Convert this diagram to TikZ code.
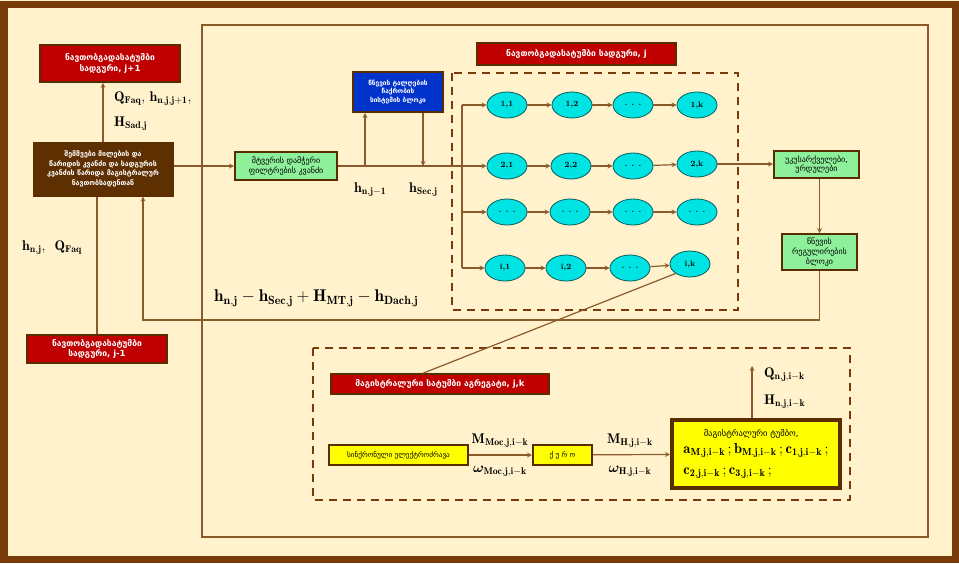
\documentclass[tikz,border=0pt]{standalone}
\usepackage{fontspec}
\usepackage{amsmath,bm}
\newfontfamily\geo{DejaVu Sans}
\usetikzlibrary{shapes.geometric,arrows}

\definecolor{bgcream}{HTML}{FFF2CC}
\definecolor{framebr}{HTML}{7A3B0A}
\definecolor{linebr}{HTML}{8B5A2B}
\definecolor{boxbr}{HTML}{5A2D00}
\definecolor{boxred}{HTML}{C00000}
\definecolor{hubbr}{HTML}{5E2F00}
\definecolor{boxgreen}{HTML}{8EF09A}
\definecolor{boxblue}{HTML}{0033CC}
\definecolor{cellcyan}{HTML}{00E3E3}
\definecolor{celledge}{HTML}{0A5C5C}
\definecolor{boxyellow}{HTML}{FFFF00}

\newcommand\bvar[2]{\mathbf{#1}_{\mathbf{#2}}}

\begin{document}
\begin{tikzpicture}[
    x=1pt, y=-1pt,
    every node/.style={inner sep=1pt},
    redbox/.style={rectangle, draw=boxbr, line width=1.6pt, fill=boxred, text=white, font=\geo\bfseries\fontsize{8.5}{10.5}\selectfont, align=center},
    hubbox/.style={rectangle, draw=boxbr, line width=1pt, fill=hubbr, text=white, font=\geo\bfseries\fontsize{7}{9.5}\selectfont, align=center},
    greenbox/.style={rectangle, draw=boxbr, line width=2pt, fill=boxgreen, font=\geo\fontsize{8}{9.5}\selectfont, align=center},
    bluebox/.style={rectangle, draw=boxbr, line width=2pt, fill=boxblue, text=white, font=\geo\bfseries\fontsize{6.5}{8.5}\selectfont, align=center},
    yellowbox/.style={rectangle, draw=boxbr, line width=2pt, fill=boxyellow, font=\geo\fontsize{7.2}{8}\selectfont, align=center},
    cell/.style={ellipse, draw=celledge, line width=0.8pt, fill=cellcyan, minimum width=40, minimum height=26, inner sep=0pt, font=\bfseries\fontsize{8}{9}\selectfont},
    dashbox/.style={draw=framebr, line width=2.2pt, dash pattern=on 8pt off 6pt},
    arrow/.style={->, >=stealth, line width=1.2pt, draw=linebr},
    line/.style={line width=1.2pt, draw=linebr},
    label/.style={inner sep=0pt, font=\fontsize{14}{16}\selectfont}
]
\useasboundingbox (0,0) rectangle (959,563);
% -------------------------
% Frames
% -------------------------
    \fill[bgcream] (0,0) rectangle (959,563);
    \draw[framebr, line width=7pt] (4,4) rectangle (955,559);
    \draw[linebr, line width=2pt] (202,25) rectangle (928,537);
    \draw[dashbox] (452,73) rectangle (738,310);
    \draw[dashbox] (313,348) rectangle (850,500);

% -------------------------
% Left side (neighbour stations)
% -------------------------
    \node[redbox, minimum width=140, minimum height=37] (stp1) at (110,63.5) {ნავთობგადასატუმბი\\სადგური, j+1};
    \node[hubbox, minimum width=140, minimum height=54] (hub) at (103,169) {შემშვები მილების და\\წარიდის კვანძი და სადგურის\\კვანძის წარიდა მაგისტრალურ\\ნავთობსადენთან};
    \node[redbox, minimum width=140, minimum height=28] (stm1) at (97,349) {ნავთობგადასატუმბი\\სადგური, j-1};

    \node[label, anchor=west] (lq1) at (114,99) {$\bvar{Q}{Faq}$, $\bvar{h}{n,j,j+1}$,};
    \node[label, anchor=west] (lh1) at (114,124) {$\bvar{H}{Sad,j}$};
    \node[label, anchor=west] (lh2) at (22,248) {$\bvar{h}{n,j}$, \ $\bvar{Q}{Faq}$};

% -------------------------
% Station j
% -------------------------
    \node[redbox, minimum width=199, minimum height=22] (stj) at (576.5,54) {ნავთობგადასატუმბი სადგური, j};
    \node[greenbox, minimum width=102, minimum height=28] (filt) at (286,166) {მტვერის დამჭერი\\ფილტრების კვანძი};
    \node[bluebox, minimum width=90, minimum height=40] (dmp) at (398,92) {წნევის ტალღების\\ჩაქრობის\\სისტემის ბლოკი};
    \node[greenbox, minimum width=85, minimum height=27] (vlv) at (816.5,164.5) {უკუსარქველები,\\ურდულები};
    \node[greenbox, minimum width=75, minimum height=36, font=\geo\fontsize{8}{9.8}\selectfont] (prs) at (819.5,252) {წნევის\\რეგულირების\\ბლოკი};

    \node[label, anchor=west] (lhn) at (354,190) {$\bvar{h}{n,j-1}$};
    \node[label, anchor=west] (lhs) at (409,190) {$\bvar{h}{Sec,j}$};
    \node[label, anchor=west, font=\fontsize{17}{19}\selectfont] (lbal) at (214,298) {$\bvar{h}{n,j} - \bvar{h}{Sec,j} + \bvar{H}{MT,j} - \bvar{h}{Dach,j}$};

    % pump cells
    \node[cell] (n11) at (507,105) {1,1};
    \node[cell] (n12) at (572,105) {1,2};
    \node[cell] (n13) at (633,105) {. . .};
    \node[cell] (n14) at (697,105) {1,k};
    \node[cell] (n21) at (507,166) {2,1};
    \node[cell] (n22) at (571,166) {2,2};
    \node[cell] (n23) at (633,166) {. . .};
    \node[cell] (n24) at (697,164) {2,k};
    \node[cell] (n31) at (507,212) {. . .};
    \node[cell] (n32) at (570,212) {. . .};
    \node[cell] (n33) at (633,212) {. . .};
    \node[cell] (n34) at (697,212) {. . .};
    \node[cell] (n41) at (505,268) {i,1};
    \node[cell] (n42) at (566,268) {i,2};
    \node[cell] (n43) at (630,268) {. . .};
    \node[cell] (n44) at (690,264) {i,k};

    \coordinate (splt) at (462,166);
    \coordinate (tapa) at (365,166);
    \coordinate (tapb) at (423,166);
    \coordinate (fbk) at (143,320);

% -------------------------
% Pump aggregate j,k
% -------------------------
    \node[redbox, minimum width=218, minimum height=20] (agg) at (440,384) {მაგისტრალური სატუმბი აგრეგატი, j,k};
    \node[yellowbox, minimum width=139, minimum height=20] (mot) at (398.5,455) {სინქრონული ელექტროძრავა};
    \node[yellowbox, minimum width=59, minimum height=20] (cpl) at (562.5,455) {ქ უ რ ო};
    \node[yellowbox, line width=4pt, minimum width=168, minimum height=68, inner sep=2pt, align=left, font=\fontsize{14.5}{16}\selectfont] (pmp) at (756,454)
        {\hspace*{1.4em}{\geo\fontsize{8.5}{9}\selectfont მაგისტრალური ტუმბო,}\\[1pt]
         $\bvar{a}{M,j,i-k}\,;\bvar{b}{M,j,i-k}\,;\bvar{c}{1,j,i-k}\,;$\\[5pt]
         $\bvar{c}{2,j,i-k}\,;\bvar{c}{3,j,i-k}\,;$};
    \coordinate (qout) at (752,366);

    \node[label] (lmm) at (500,441) {$\bvar{M}{Moc,j,i-k}$};
    \node[label] (lwm) at (500,471) {$\bm{\omega}_{\mathbf{Moc,j,i-k}}$};
    \node[label] (lmh) at (630,441) {$\bvar{M}{H,j,i-k}$};
    \node[label] (lwh) at (630,471) {$\bm{\omega}_{\mathbf{H,j,i-k}}$};
    \node[label, anchor=west] (lqn) at (764,375) {$\bvar{Q}{n,j,i-k}$};
    \node[label, anchor=west] (lhh) at (764,402) {$\bvar{H}{n,j,i-k}$};

% -------------------------
% Arrows & Routing
% -------------------------
    \draw[arrow] (hub.north) -- (hub.north |- stp1.south);
    \draw[line] (stm1.north) -- (stm1.north |- hub.south);
    \draw[arrow] (hub.east |- filt.west) -- (filt.west);
    \draw[line] (filt.east) -- (splt);
    \draw[arrow] (tapa) -- (tapa |- dmp.south);
    \draw[arrow] (tapb |- dmp.south) -- (tapb);
    \draw[line] (splt |- n11) -- (splt |- n41);
    \draw[arrow] (splt |- n11) -- (n11);
    \draw[arrow] (splt) -- (n21);
    \draw[arrow] (splt |- n31) -- (n31);
    \draw[arrow] (splt |- n41) -- (n41);
    \draw[arrow] (n11) -- (n12);
    \draw[arrow] (n12) -- (n13);
    \draw[arrow] (n13) -- (n14);
    \draw[arrow] (n21) -- (n22);
    \draw[arrow] (n22) -- (n23);
    \draw[arrow] (n23) -- (n24);
    \draw[arrow] (n31) -- (n32);
    \draw[arrow] (n32) -- (n33);
    \draw[arrow] (n33) -- (n34);
    \draw[arrow] (n41) -- (n42);
    \draw[arrow] (n42) -- (n43);
    \draw[arrow] (n43) -- (n44);
    \draw[arrow] (n24) -- (n24 -| vlv.west);
    \draw[arrow] (vlv.south -| prs.north) -- (prs.north);
    \draw[arrow] (prs.south) |- (fbk) -- (fbk |- hub.south);
    \draw[line] ([xshift=-17pt]agg.north) -- (n44.south west);
    \draw[arrow] (mot) -- (cpl);
    \draw[arrow] (cpl) -- (pmp);
    \draw[arrow] (pmp.north -| qout) -- (qout);
\end{tikzpicture}
\end{document}
